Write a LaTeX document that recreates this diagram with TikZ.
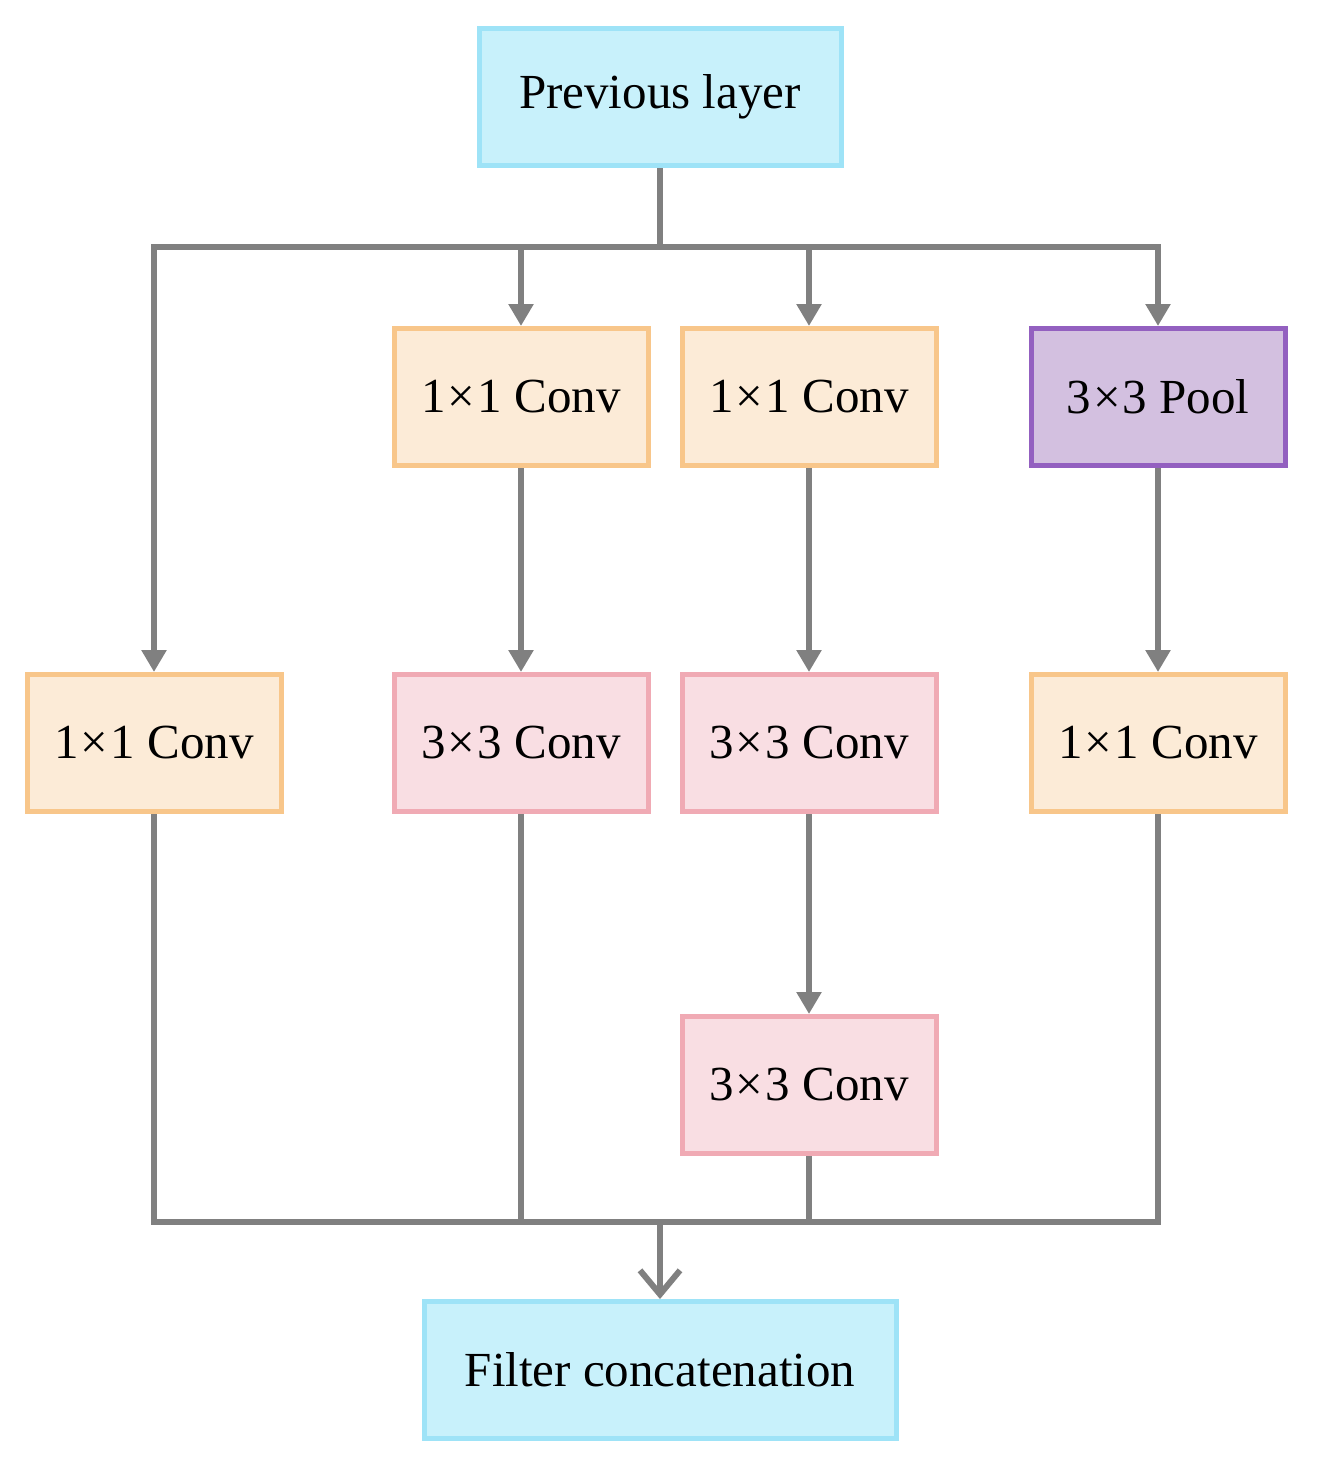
\documentclass[tikz,border=0pt]{standalone}
\usepackage{fontspec}
\setmainfont{Liberation Serif}
\usetikzlibrary{arrows.meta}
\definecolor{cyF}{HTML}{C8F1FB}\definecolor{cyD}{HTML}{9EE3F7}
\definecolor{orF}{HTML}{FCEBD7}\definecolor{orD}{HTML}{F8C68A}
\definecolor{piF}{HTML}{F9DEE3}\definecolor{piD}{HTML}{F0AAB4}
\definecolor{puF}{HTML}{D3C0E0}\definecolor{puD}{HTML}{9360C0}
\definecolor{ln}{HTML}{808080}
\newcommand{\tms}{\kern2pt×\kern2pt}
\begin{document}
\begin{tikzpicture}[x=1pt,y=-1pt,
 box/.style={draw,line width=5pt,minimum width=#1,minimum height=137pt,inner sep=0pt,font=\fontsize{49}{55}\selectfont},
 cy/.style={box=#1,fill=cyF,draw=cyD},
 or/.style={box=254pt,fill=orF,draw=orD},
 pi/.style={box=254pt,fill=piF,draw=piD},
 pu/.style={box=254pt,fill=puF,draw=puD},
 ln/.style={draw=ln,line width=6pt},
 ar/.style={ln,-{Triangle[length=22pt,width=24pt]}},
 ar2/.style={ln,-{Straight Barb[length=24pt,width=40pt,line width=6pt]}}]
\useasboundingbox (0,0) rectangle (1317,1472);
\node[cy=362pt] (prev) at (660,97) {Previous layer};
\node[or] (c1a) at (521,397) {1\tms1 Conv};
\node[or] (c1b) at (809,397) {1\tms1 Conv};
\node[pu] (pool) at (1158,397) {3\tms3 Pool};
\node[or] (c1l) at (154,743) {1\tms1 Conv};
\node[pi] (c3a) at (521,743) {3\tms3 Conv};
\node[pi] (c3b) at (809,743) {3\tms3 Conv};
\node[or] (c1r) at (1158,743) {1\tms1 Conv};
\node[pi] (c3c) at (809,1085) {3\tms3 Conv};
\node[cy=472pt] (cat) at (660,1370) {Filter concatenation};
\coordinate (s) at (660,247);
\coordinate (m) at (660,1222);
\draw[ln] (prev.south) -- (s);
\draw[ar] (s) -| (c1l.north);
\draw[ar] (s) -| (c1a.north);
\draw[ar] (s) -| (c1b.north);
\draw[ar] (s) -| (pool.north);
\draw[ar] (c1a) -- (c3a);
\draw[ar] (c1b) -- (c3b);
\draw[ar] (c3b) -- (c3c);
\draw[ar] (pool) -- (c1r);
\draw[ln] (c1l.south) |- (m);
\draw[ln] (c3a.south) |- (m);
\draw[ln] (c3c.south) |- (m);
\draw[ln] (c1r.south) |- (m);
\draw[ar2] (m) -- (cat.north);
\end{tikzpicture}
\end{document}
